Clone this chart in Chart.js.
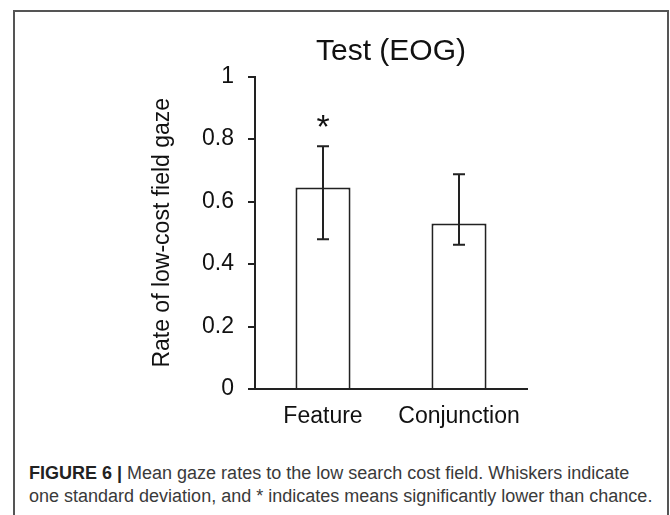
<!DOCTYPE html>
<html>
<head>
<meta charset="utf-8">
<script src="https://cdn.jsdelivr.net/npm/chart.js@4.4.0/dist/chart.umd.min.js"></script>
<style>
  html, body { margin: 0; padding: 0; background: #fff; }
  #wrap { position: relative; width: 670px; height: 515px; overflow: hidden; }
  #frame { position: absolute; left: 13px; top: 10px; width: 656px; height: 530px; border: 2px solid #555; box-sizing: border-box; }
  #chartBox { position: absolute; left: 0; top: 0; width: 670px; height: 440px; }
  #caption { position: absolute; left: 29px; top: 462px; white-space: nowrap;
    font-family: "Liberation Sans", Arial, sans-serif; font-size: 18px; line-height: 23px; color: #3a3a3a; }
  #caption b { color: #222; }
</style>
</head>
<body>
<div id="wrap">
  <div id="frame"></div>
  <div id="chartBox"><canvas id="myChart" width="670" height="440"></canvas></div>
  <div id="caption"><b>FIGURE 6 |</b> Mean gaze rates to the low search cost field. Whiskers indicate<br>one standard deviation, and * indicates means significantly lower than chance.</div>
</div>
<script>
const categories = ['Feature', 'Conjunction']
const meanRates = [0.645, 0.53]
const sdUpper = [0.777, 0.687]   // top whisker
const sdLower = [0.479, 0.462]   // bottom whisker
const marks = ['*', '']
const yTicks = [0, 0.2, 0.4, 0.6, 0.8, 1]

const ink = '#222'
Chart.defaults.font.family = '"Liberation Sans", Arial, sans-serif'
Chart.defaults.color = '#111'

// whiskers + significance marks
const whiskers = {
    id: 'whiskers',
    afterDatasetsDraw(chart) {
        const c = chart.ctx
        const y = chart.scales.y
        const bars = chart.getDatasetMeta(0).data
        c.save()
        c.strokeStyle = ink
        c.lineWidth = 2
        bars.forEach((bar, i) => {
            const top = y.getPixelForValue(sdUpper[i])
            const bot = y.getPixelForValue(sdLower[i])
            c.beginPath()
            c.moveTo(bar.x, top); c.lineTo(bar.x, bot)
            c.moveTo(bar.x - 6, top); c.lineTo(bar.x + 6, top)
            c.moveTo(bar.x - 6, bot); c.lineTo(bar.x + 6, bot)
            c.stroke()
            if (marks[i]) {
                c.fillStyle = '#111'
                c.font = '34px "Liberation Sans", Arial, sans-serif'
                c.textAlign = 'center'
                c.textBaseline = 'middle'
                c.fillText(marks[i], bar.x, top - 18)
            }
        })
        c.restore()
    }
}

const ctx = document.getElementById('myChart').getContext('2d')
const myChart = new Chart(ctx, {
    type: 'bar',
    data: {
        labels: categories,
        datasets: [{
            data: meanRates,
            backgroundColor: '#fff',
            borderColor: ink,
            borderWidth: 2,
            barPercentage: 0.405,
            categoryPercentage: 1
        }]
    },
    options: {
        responsive: false,
        animation: false,
        layout: { padding: { left: 145, right: 143, top: 0, bottom: 0 } },
        plugins: {
            legend: { display: false },
            tooltip: { enabled: false },
            title: {
                display: true,
                fullSize: false,
                text: 'Test (EOG)',
                color: '#111',
                font: { size: 30, weight: 'normal', lineHeight: 1.2 },
                padding: { top: 34, bottom: 6.5 }
            }
        },
        scales: {
            x: {
                grid: { display: false, drawTicks: false },
                border: { color: ink, width: 2 },
                ticks: { font: { size: 23 }, color: '#111', padding: 14 },
                afterFit: (s) => { s.height = 51 }
            },
            y: {
                min: 0,
                max: 1,
                afterBuildTicks: (s) => { s.ticks = yTicks.map(v => ({ value: v })) },
                grid: { drawOnChartArea: false, drawTicks: true, tickLength: 7, color: ink, lineWidth: 2 },
                border: { color: ink, width: 2 },
                ticks: { font: { size: 23 }, color: '#111', padding: 14,
                    callback: (v) => String(v) },
                title: { display: true, text: 'Rate of low-cost field gaze', color: '#111',
                    font: { size: 23 }, padding: { top: 4, bottom: 4 } },
                afterFit: (s) => { s.width = 110 }
            }
        }
    },
    plugins: [whiskers]
})
</script>
</body>
</html>
